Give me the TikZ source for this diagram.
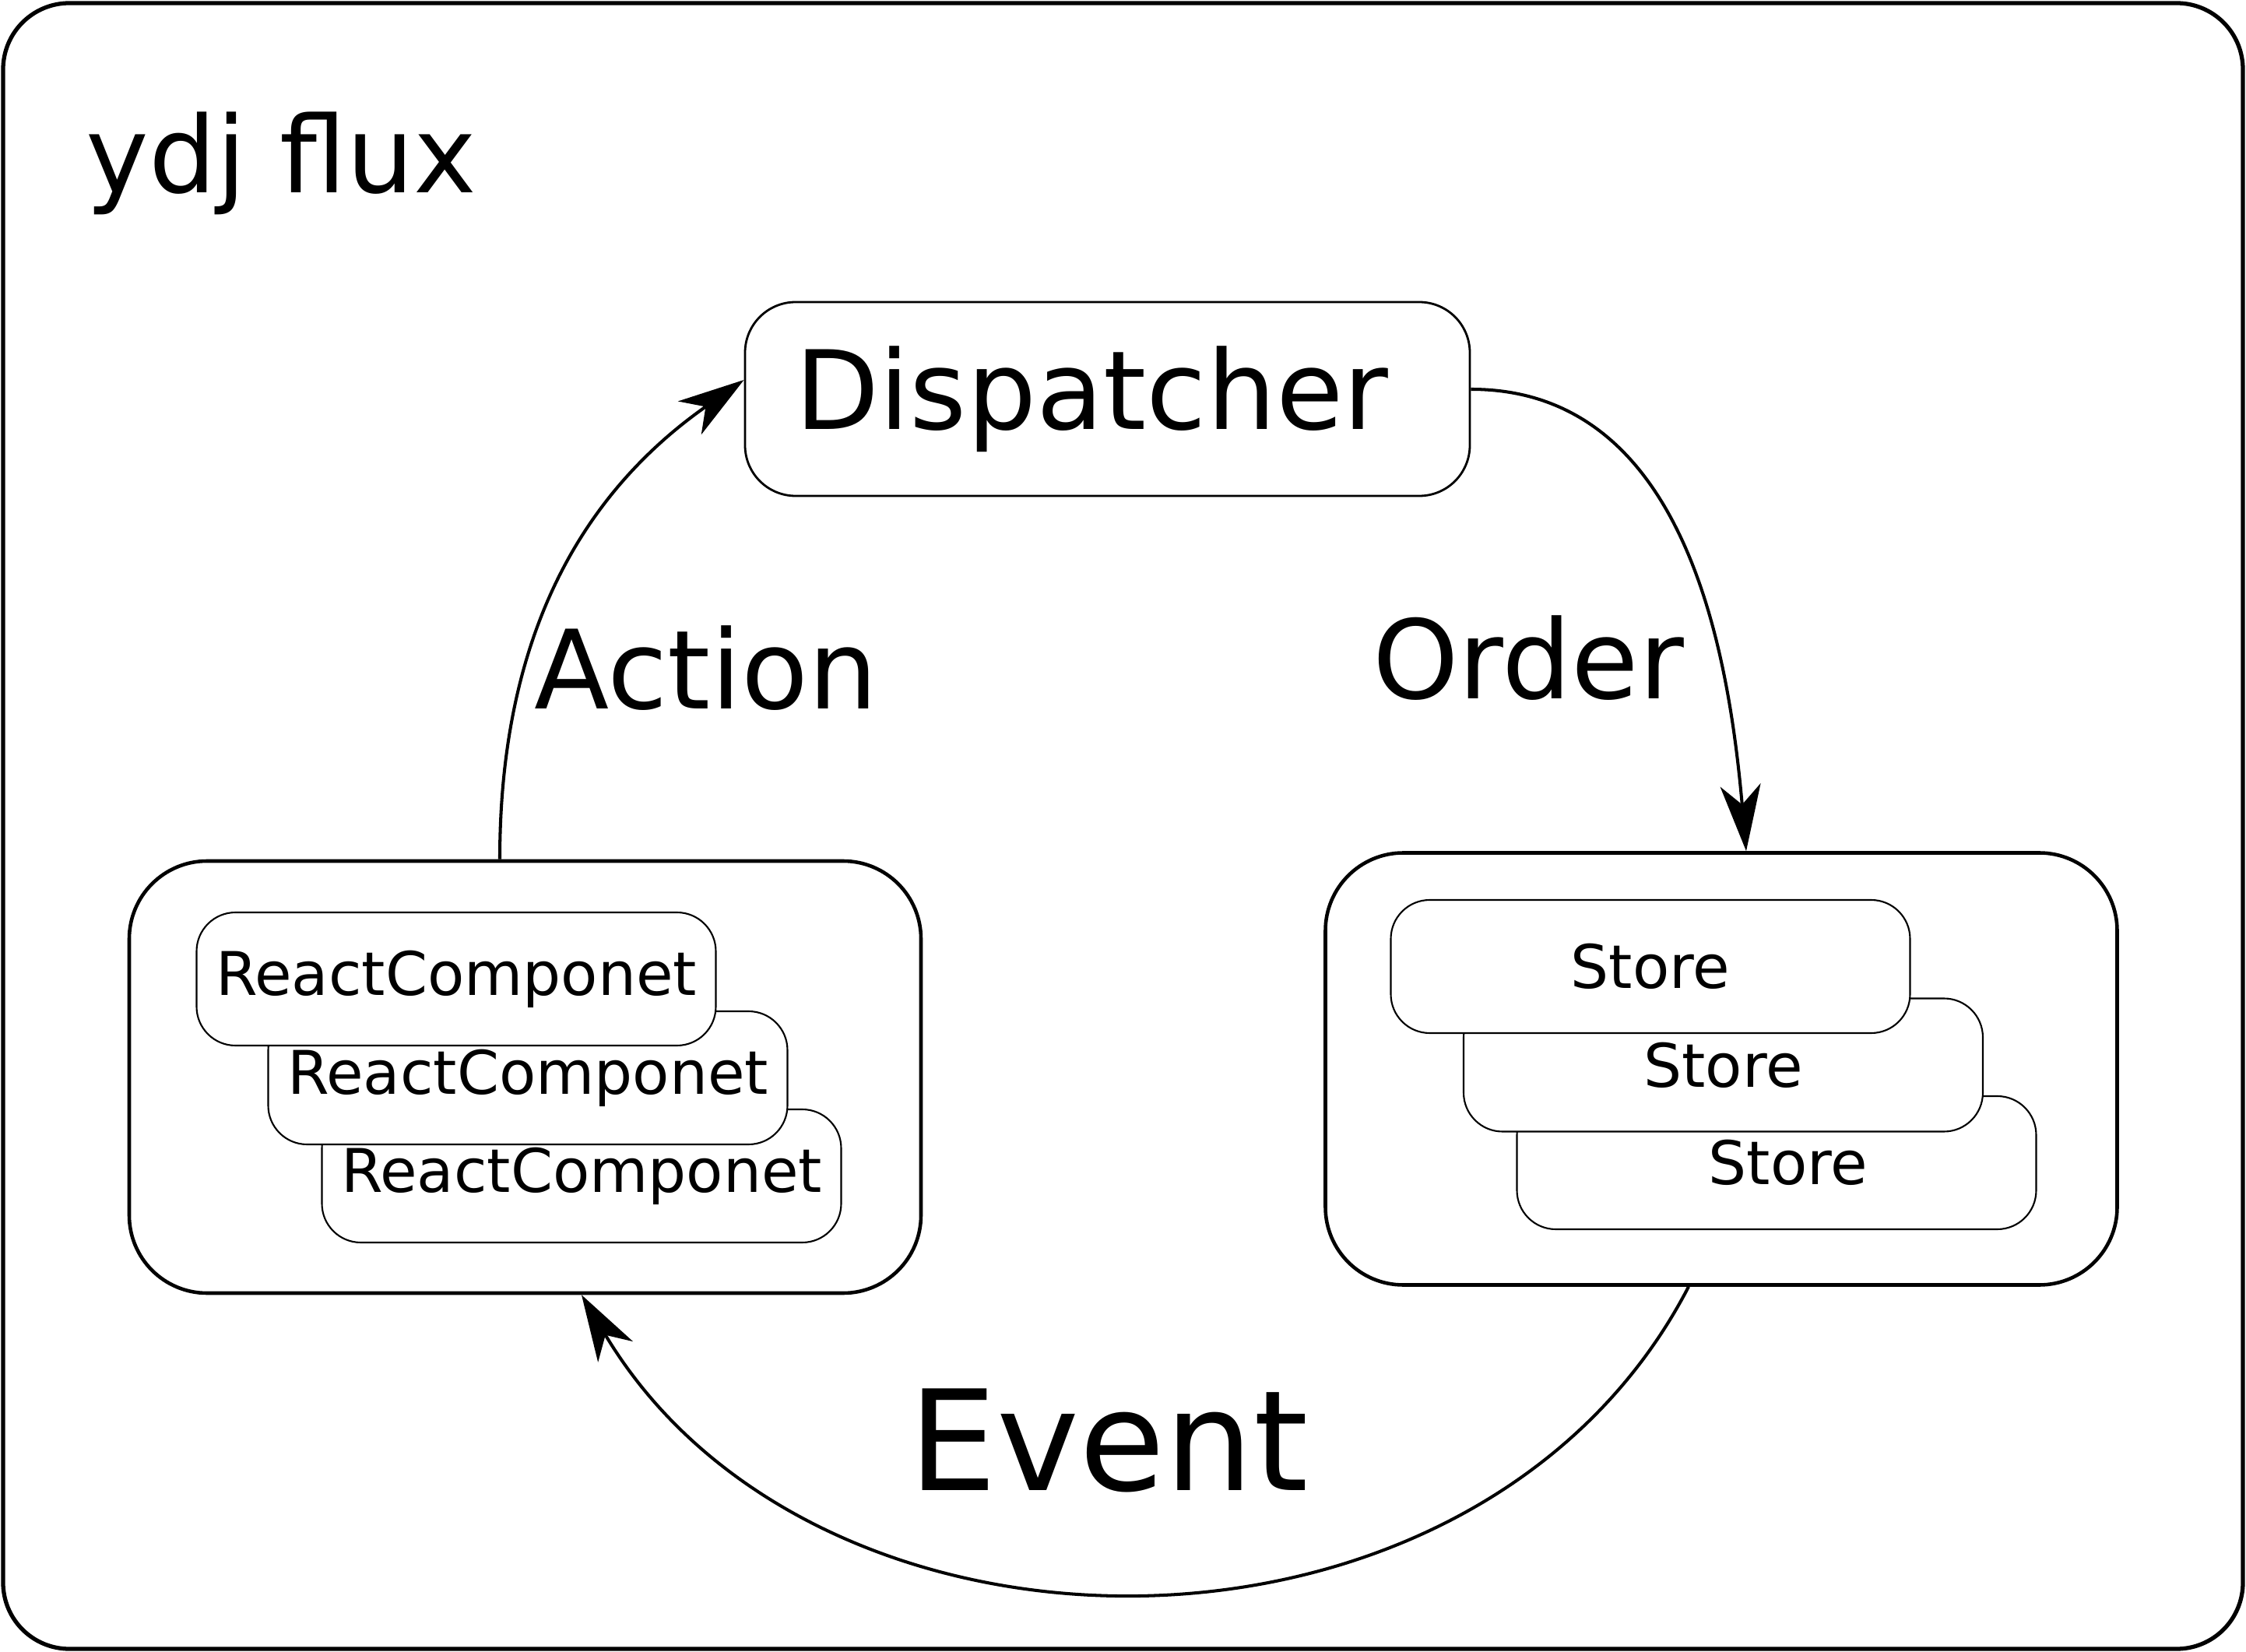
\documentclass[tikz,border=0pt]{standalone}
\usepackage{fontspec}
\setmainfont{DejaVu Sans}
\usetikzlibrary{arrows.meta,calc}
\tikzset{
	group/.style={draw, line width=1.3pt, rounded corners=1cm, minimum width=10.17cm, minimum height=5.55cm, inner sep=0pt},
	box/.style={draw, line width=0.6pt, fill=white, rounded corners=0.5cm, minimum width=6.67cm, minimum height=1.71cm, inner sep=0pt, font=\fontsize{22}{26}\selectfont},
	flow/.style={line width=1.15pt, -{Stealth[length=8.5mm,width=5.2mm,inset=2.5mm]}},
	tag/.style={anchor=base, inner sep=0pt, font=\fontsize{40}{48}\selectfont}
}

\begin{document}
\begin{tikzpicture}

	% Draw the frame and the title
	\useasboundingbox (0,0) rectangle (28.85,-21.22);
	\draw[line width=1.5pt, rounded corners=0.85cm] (0.04,-0.04) rectangle (28.81,-21.18);
	\node[anchor=base west, inner sep=0pt, font=\fontsize{38.8}{46}\selectfont] (title) at (1.1,-2.48) {ydj flux};

	% Dispatcher on top
	\node[draw, line width=0.8pt, rounded corners=0.65cm, minimum width=9.31cm, minimum height=2.49cm, font=\fontsize{40}{48}\selectfont] (dispatcher) at (14.225,-5.125) {Dispatcher\hspace*{0.4cm}};

	% Views and stores
	\node[group] (views) at (6.745,-13.835) {};
	\node[group] (stores) at (22.11,-13.73) {};

	\node[box] (view3) at (7.47,-15.105) {ReactComponet};
	\node[box] (view2) at (6.78,-13.845) {ReactComponet};
	\node[box] (view1) at (5.86,-12.575) {ReactComponet};

	\node[box] (store3) at (22.82,-14.935) {\hspace*{0.3cm}Store};
	\node[box] (store2) at (22.135,-13.68) {Store};
	\node[box] (store1) at (21.20,-12.415) {Store};

	% Flow round the loop
	\draw[flow] ($(views.north)+(-0.325,0)$) to[out=90,in=215] ($(dispatcher.west)+(0,0.245)$);
	\draw[flow] ($(dispatcher.east)+(0,0.125)$) to[out=0,in=95] ($(stores.north)+(0.32,0)$);
	\draw[flow] ($(stores.south)+(-0.42,0)$) .. controls (19.0,-21.72) and (10.5,-21.72) .. ($(views.south)+(0.725,0)$);

	\node[tag] (action) at (9.07,-9.11) {Action};
	\node[tag] (order) at (19.63,-8.98) {Order};
	\node[tag, font=\fontsize{51}{60}\selectfont] (event) at (14.24,-19.14) {Event};

\end{tikzpicture}
\end{document}
